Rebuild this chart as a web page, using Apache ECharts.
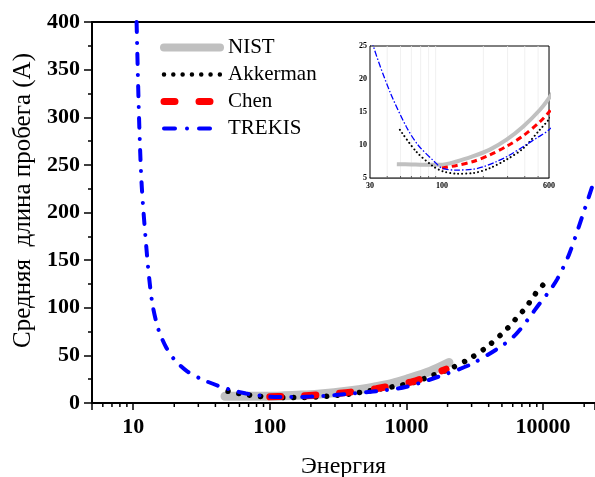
<!DOCTYPE html>
<html>
<head>
<meta charset="utf-8">
<script src="https://cdn.jsdelivr.net/npm/echarts@6/dist/echarts.min.js"></script>
<style>html,body{margin:0;padding:0;background:#fff}#c{width:595px;height:477px}</style>
</head>
<body>
<div id="c"></div>
<script>
// ---- data (energy, mean free path) ----
const nistE = [47, 60, 73, 97, 128, 169, 223, 295, 390, 514, 600, 800, 1000, 1500, 2050];
const nistV = [7.1, 7.05, 7.0, 7.0, 7.5, 8.3, 9.3, 10.8, 12.8, 15.3, 17.1, 21, 25, 33.5, 42.5];
const akkE = [49.5, 65, 86, 102, 128, 169, 223, 295, 390, 514, 600, 1112, 1430, 2040, 2853, 3858, 5044, 5710, 6380, 7260, 7990, 8830, 10000];
const akkV = [12.3, 9.0, 6.8, 6.0, 5.65, 5.75, 6.5, 7.8, 9.5, 12.3, 13.9, 21.3, 27, 35.4, 45.9, 58.5, 73.2, 81, 89, 98, 106, 115, 124];
const chenE = [100, 128, 169, 223, 295, 390, 514, 600, 800, 1112, 1500, 1950];
const chenV = [6.5, 6.9, 7.5, 8.5, 9.8, 11.4, 13.5, 15.0, 18.5, 22.4, 29, 35.5];
const trekE = [10.6, 11.06, 11.57, 12.6, 13.2, 13.8, 14.6, 15.5, 17.5, 20.2, 25, 31.7, 42, 55, 67, 88, 100, 125, 165, 200, 250, 300, 400, 500, 600, 1000, 2000, 3000, 5000, 6320, 7680, 9620, 11070, 12700, 15500, 20000, 24000];
const trekV = [400, 297, 227, 157, 127, 105, 88, 75, 58, 45, 33, 25, 18, 12.8, 10.0, 7.5, 6.5, 6.2, 6.3, 6.7, 7.5, 8.3, 9.9, 11.2, 12.3, 17, 31, 41, 60, 72, 87, 106, 117, 130, 156, 202, 236];
const seriesNames = ['NIST', 'Akkerman', 'Chen', 'TREKIS'];
const xMajorLabels = [10, 100, 1000, 10000];
const yTicks = [0, 50, 100, 150, 200, 250, 300, 350, 400];
const insetXLabels = [30, 100, 600];
const insetYTicks = [5, 10, 15, 20, 25];

const pairs = (xs, ys) => xs.map((x, i) => [x, ys[i]]);
// minor tick values for the log axes (2..9 per decade)
const minorMain = [];
for (let d = 1; d <= 10000; d *= 10) for (let k = 2; k <= 9; k++) { const v = k * d; if (v > 5 && v < 24000) minorMain.push(v); }
const insetGridX = [];
for (let d = 10; d <= 100; d *= 10) for (let k = 2; k <= 9; k++) { const v = k * d; if (v > 30 && v < 600) insetGridX.push(v); }

const font = 'Liberation Serif';
const chart = echarts.init(document.getElementById('c'), null, {renderer: 'canvas'});

const mainStyles = [
  {color: '#c0c0c0', width: 9, type: 'solid', cap: 'round', join: 'round'},
  {color: '#000000', width: 5.5, type: [0.01, 11], cap: 'round'},
  {color: '#ff0000', width: 7, type: [11, 24], cap: 'round'},
  {color: '#0000ff', width: 4, type: [10, 11, 0.01, 11], cap: 'round'}
];
const legendStyles = [
  {color: '#c0c0c0', width: 8, type: 'solid', cap: 'round'},
  {color: '#000000', width: 4.5, type: [0.01, 9.3], cap: 'round'},
  {color: '#ff0000', width: 7, type: [11, 24], cap: 'round'},
  {color: '#0000ff', width: 4, type: [11, 12, 0.01, 12], cap: 'round'}
];
const insetStyles = [
  {color: '#c0c0c0', width: 4, type: 'solid', cap: 'butt'},
  {color: '#000000', width: 2, type: [0.01, 4], cap: 'round'},
  {color: '#ff0000', width: 3, type: [6, 4], cap: 'butt'},
  {color: '#0000ff', width: 1.3, type: [6, 2, 1.5, 2], cap: 'butt'}
];
const datasets = [pairs(nistE, nistV), pairs(akkE, akkV), pairs(chenE, chenV), pairs(trekE, trekV)];

const series = [];
datasets.forEach((d, i) => {
  series.push({
    name: seriesNames[i], type: 'line', xAxisIndex: 0, yAxisIndex: 0,
    data: d, smooth: 0.3, symbol: 'none', clip: true,
    lineStyle: mainStyles[i], itemStyle: {color: mainStyles[i].color}, z: 3 + i
  });
});
datasets.forEach((d, i) => {
  series.push({
    name: 'inset-' + seriesNames[i], type: 'line', xAxisIndex: 2, yAxisIndex: 2,
    data: d, smooth: 0.3, symbol: 'none', clip: true,
    lineStyle: insetStyles[i], z: 13 + i
  });
});
// minor ticks on main x axis
series.push({
  type: 'custom', xAxisIndex: 0, yAxisIndex: 0, silent: true, clip: false, z: 20,
  data: minorMain.map(v => [v, 0]),
  renderItem: (params, api) => {
    const p = api.coord([api.value(0), 0]);
    return {type: 'line', shape: {x1: p[0], y1: p[1], x2: p[0], y2: p[1] + 4}, style: {stroke: '#000', lineWidth: 1.5}};
  }
});
// light vertical grid lines in inset
series.push({
  type: 'custom', xAxisIndex: 2, yAxisIndex: 2, silent: true, clip: false, z: 10,
  data: insetGridX.map(v => [v, 5]),
  renderItem: (params, api) => {
    const p0 = api.coord([api.value(0), 5]);
    const p1 = api.coord([api.value(0), 25]);
    return {type: 'group', children: [
      {type: 'line', shape: {x1: p0[0], y1: p0[1], x2: p1[0], y2: p1[1]}, style: {stroke: '#ececec', lineWidth: 0.8}},
      {type: 'line', shape: {x1: p0[0], y1: p0[1], x2: p0[0], y2: p0[1] - 2}, style: {stroke: '#333', lineWidth: 0.8}}
    ]};
  }
});

const option = {
  backgroundColor: '#fff',
  animation: false,
  legend: {
    data: seriesNames.map((n, i) => ({
      name: n,
      itemStyle: {color: 'rgba(0,0,0,0)', borderWidth: 0, opacity: 0},
      lineStyle: legendStyles[i]
    })),
    orient: 'vertical', left: 155, top: 32,
    itemWidth: 56, itemHeight: 14, itemGap: 6,
    textStyle: {fontFamily: font, fontSize: 21, color: '#000', padding: [0, 0, 0, 3]},
    selectedMode: false
  },
  grid: [
    {left: 92, right: 0, top: 22, bottom: 74, outerBoundsMode: 'none', containLabel: false},
    {left: 92, right: 0, top: 22, bottom: 74, outerBoundsMode: 'none', containLabel: false},
    {left: 370, top: 46, width: 179, height: 132, show: true, borderColor: '#000', borderWidth: 1, backgroundColor: '#fff', z: 9, outerBoundsMode: 'none', containLabel: false}
  ],
  xAxis: [
    {
      type: 'log', gridIndex: 0, min: 5, max: 24000, logBase: 10,
      axisLine: {show: true, onZero: false, lineStyle: {color: '#000', width: 2}},
      axisTick: {show: true, inside: false, length: 7, lineStyle: {color: '#000', width: 1.5}},
      splitLine: {show: false},
      axisLabel: {
        fontFamily: font, fontSize: 22, fontWeight: 'bold', color: '#000', margin: 13,
        formatter: v => xMajorLabels.includes(Math.round(v)) ? String(Math.round(v)) : ''
      },
      name: 'Энергия', nameLocation: 'middle', nameGap: 52,
      nameTextStyle: {fontFamily: font, fontSize: 24, color: '#000'}
    },
    {
      type: 'log', gridIndex: 1, min: 5, max: 24000, position: 'top',
      axisLine: {show: true, onZero: false, lineStyle: {color: '#000', width: 2}},
      axisTick: {show: false}, axisLabel: {show: false}, splitLine: {show: false}
    },
    {
      type: 'log', gridIndex: 2, min: 30, max: 600,
      axisLine: {show: true, onZero: false, lineStyle: {color: '#b0b0b0', width: 2}},
      axisTick: {show: false},
      splitLine: {show: true, lineStyle: {color: '#ececec', width: 0.8}},
      axisLabel: {
        fontFamily: font, fontSize: 8, fontWeight: 'bold', color: '#000', margin: 4,
        formatter: v => insetXLabels.includes(Math.round(v)) ? String(Math.round(v)) : ''
      }
    }
  ],
  yAxis: [
    {
      type: 'value', gridIndex: 0, min: 0, max: 400, interval: 50,
      axisLine: {show: true, lineStyle: {color: '#000', width: 2}},
      axisTick: {show: true, inside: false, length: 8, lineStyle: {color: '#000', width: 1.5}},
      minorTick: {show: true, splitNumber: 2, length: 4, lineStyle: {color: '#000', width: 1.5}},
      splitLine: {show: false},
      axisLabel: {fontFamily: font, fontSize: 22, fontWeight: 'bold', color: '#000', margin: 12,
        formatter: v => yTicks.includes(v) ? String(v) : ''},
      name: 'Средняя  длина пробега (A)', nameLocation: 'middle', nameGap: 50,
      nameTextStyle: {fontFamily: font, fontSize: 25, color: '#000', padding: [0, 0, 0, 24]}
    },
    {
      type: 'value', gridIndex: 1, min: 0, max: 400, show: false
    },
    {
      type: 'value', gridIndex: 2, min: 5, max: 25, interval: 5,
      axisLine: {show: true, lineStyle: {color: '#000', width: 1}},
      axisTick: {show: false},
      splitLine: {show: true, lineStyle: {color: '#ececec', width: 0.8}},
      minorSplitLine: {show: true, lineStyle: {color: '#f2f2f2', width: 0.8}},
      minorTick: {show: false, splitNumber: 2},
      axisLabel: {fontFamily: font, fontSize: 8, fontWeight: 'bold', color: '#000', margin: 3,
        formatter: v => insetYTicks.includes(v) ? String(v) : ''}
    }
  ],
  series: series
};
chart.setOption(option);
</script>
</body>
</html>
